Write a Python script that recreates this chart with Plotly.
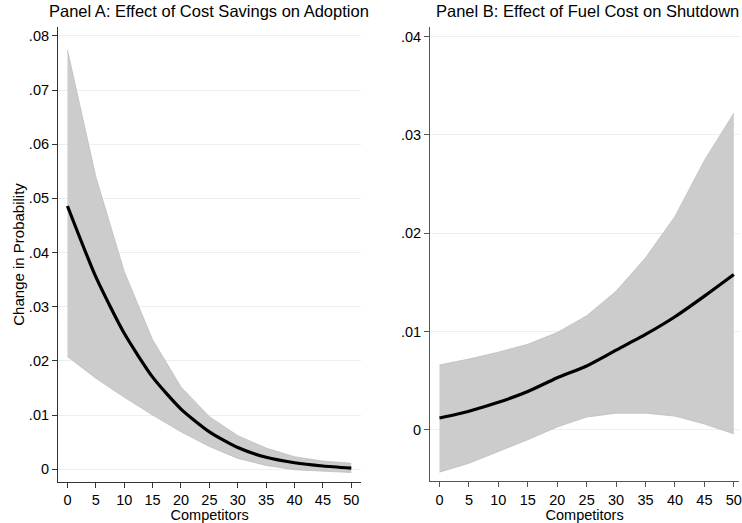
import plotly.graph_objects as go

competitors = [0, 5, 10, 15, 20, 25, 30, 35, 40, 45, 50]

# Panel A: Effect of Cost Savings on Adoption
a_mean = [0.0486, 0.0355, 0.0251, 0.0170, 0.0111, 0.0069, 0.0040, 0.0022, 0.0012, 0.0006, 0.0002]
a_upper = [0.0774, 0.0540, 0.0365, 0.0239, 0.0152, 0.0097, 0.0062, 0.0039, 0.0023, 0.0015, 0.0011]
a_lower = [0.0208, 0.0168, 0.0133, 0.0100, 0.0069, 0.0042, 0.0020, 0.0007, -0.0001, -0.0004, -0.0006]

# Panel B: Effect of Fuel Cost on Shutdown
b_mean = [0.0012, 0.0019, 0.0028, 0.0039, 0.0053, 0.0065, 0.0081, 0.0097, 0.0115, 0.0136, 0.0158]
b_upper = [0.0066, 0.0072, 0.0079, 0.0087, 0.0099, 0.0116, 0.0141, 0.0175, 0.0217, 0.0274, 0.0322]
b_lower = [-0.0043, -0.0034, -0.0022, -0.0010, 0.0003, 0.0013, 0.0017, 0.0017, 0.0014, 0.0006, -0.0004]

a_ticks = [0, 0.01, 0.02, 0.03, 0.04, 0.05, 0.06, 0.07, 0.08]
a_ticktext = ["0", ".01", ".02", ".03", ".04", ".05", ".06", ".07", ".08"]
b_ticks = [0, 0.01, 0.02, 0.03, 0.04]
b_ticktext = ["0", ".01", ".02", ".03", ".04"]
x_ticks = competitors

title_a = "Panel A: Effect of Cost Savings on Adoption"
title_b = "Panel B: Effect of Fuel Cost on Shutdown"

band_fill = "#cccccc"
band_line = "#bebebe"

fig = go.Figure()

def add_panel(xa, ya, mean, upper, lower):
    fig.add_trace(go.Scatter(x=competitors, y=upper, mode="lines",
                             line=dict(color=band_line, width=0.8),
                             xaxis=xa, yaxis=ya, showlegend=False, hoverinfo="skip"))
    fig.add_trace(go.Scatter(x=competitors, y=lower, mode="lines", fill="tonexty",
                             fillcolor=band_fill, line=dict(color=band_line, width=0.8),
                             xaxis=xa, yaxis=ya, showlegend=False, hoverinfo="skip"))
    fig.add_trace(go.Scatter(x=competitors, y=mean, mode="lines",
                             line=dict(color="black", width=3.2, shape="spline", smoothing=0.6),
                             xaxis=xa, yaxis=ya, showlegend=False))

add_panel("x", "y", a_mean, a_upper, a_lower)
add_panel("x2", "y2", b_mean, b_upper, b_lower)

font = "Liberation Sans, Arial, sans-serif"
axis_common = dict(showline=True, linewidth=1.3, ticks="outside", ticklen=5,
                   tickwidth=1, tickfont=dict(size=14.5, color="black", family=font),
                   zeroline=False, ticklabeloverflow="allow")

fig.update_layout(
    width=742, height=523,
    margin=dict(l=0, r=0, t=0, b=0),
    paper_bgcolor="white", plot_bgcolor="white",
    font=dict(family=font, color="black"),
    xaxis=dict(domain=[0.0786, 0.4888], range=[-1.65, 51.75], tickvals=x_ticks,
               showgrid=False, linecolor="#333333", tickcolor="#333333",
               title=dict(text="Competitors", font=dict(size=14.5), standoff=0),
               anchor="y", **axis_common),
    yaxis=dict(domain=[0.079, 0.948], range=[-0.0023, 0.0816], tickvals=a_ticks,
               ticktext=a_ticktext, showgrid=True, gridcolor="#e8f0f2", gridwidth=1,
               linecolor="#333333", tickcolor="#333333",
               title=dict(text="Change in Probability", font=dict(size=15), standoff=0),
               anchor="x", **axis_common),
    xaxis2=dict(domain=[0.5822, 1.0], range=[-1.57, 50.88], tickvals=x_ticks,
                showgrid=False, linecolor="#555555", tickcolor="#555555",
                title=dict(text="Competitors", font=dict(size=14.5), standoff=0),
                anchor="y2", **axis_common),
    yaxis2=dict(domain=[0.0803, 0.949], range=[-0.0052, 0.0410], tickvals=b_ticks,
                ticktext=b_ticktext, showgrid=True, gridcolor="#e8f0f2", gridwidth=1,
                linecolor="#555555", tickcolor="#555555",
                anchor="x2", **axis_common),
    annotations=[
        dict(text=title_a, x=210 / 742, y=1 - 11 / 523, xref="paper", yref="paper",
             showarrow=False, xanchor="center", yanchor="middle",
             font=dict(size=16.5, color="black")),
        dict(text=title_b, x=590 / 742, y=1 - 11 / 523, xref="paper", yref="paper",
             showarrow=False, xanchor="center", yanchor="middle",
             font=dict(size=16.5, color="black")),
    ],
)

fig.write_html("out.html")
